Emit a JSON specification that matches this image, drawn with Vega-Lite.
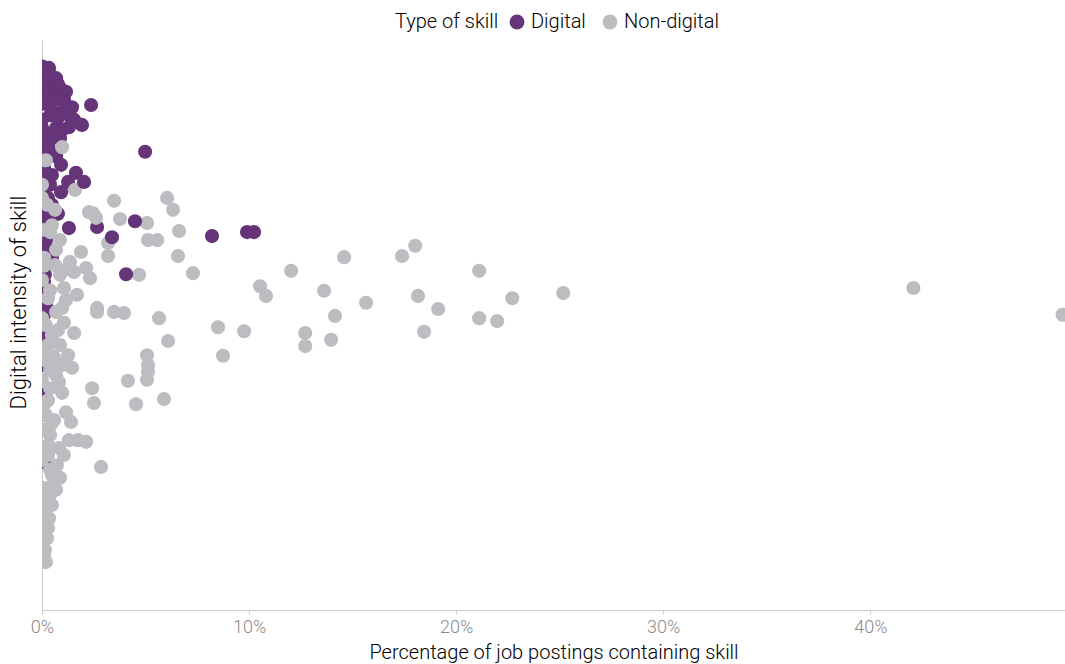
{
  "$schema": "https://vega.github.io/schema/vega-lite/v6.json",
  "width": 1023,
  "height": 570,
  "autosize": {"type": "none"},
  "padding": {"left": 42, "top": 40, "right": 0, "bottom": 54},
  "background": "white",
  "config": {
    "view": {"stroke": null},
    "font": "Roboto",
    "axis": {"grid": false}
  },
  "data": {
    "values": [
      {"skill":"Digital","share":0,"intensity":0.954},
      {"skill":"Digital","share":0.0034,"intensity":0.951},
      {"skill":"Digital","share":0.001,"intensity":0.94},
      {"skill":"Digital","share":0.0068,"intensity":0.933},
      {"skill":"Digital","share":0.0029,"intensity":0.926},
      {"skill":"Digital","share":0,"intensity":0.919},
      {"skill":"Digital","share":0.0048,"intensity":0.912},
      {"skill":"Digital","share":0.0087,"intensity":0.916},
      {"skill":"Digital","share":0.0116,"intensity":0.909},
      {"skill":"Digital","share":0.0019,"intensity":0.902},
      {"skill":"Digital","share":0.0063,"intensity":0.895},
      {"skill":"Digital","share":0,"intensity":0.888},
      {"skill":"Digital","share":0.0145,"intensity":0.882},
      {"skill":"Digital","share":0.0237,"intensity":0.886},
      {"skill":"Digital","share":0.0097,"intensity":0.874},
      {"skill":"Digital","share":0.0039,"intensity":0.868},
      {"skill":"Digital","share":0,"intensity":0.86},
      {"skill":"Digital","share":0.0193,"intensity":0.851},
      {"skill":"Digital","share":0.013,"intensity":0.847},
      {"skill":"Digital","share":0.0068,"intensity":0.846},
      {"skill":"Digital","share":0.0014,"intensity":0.835},
      {"skill":"Digital","share":0.0087,"intensity":0.828},
      {"skill":"Digital","share":0,"intensity":0.821},
      {"skill":"Digital","share":0.0039,"intensity":0.807},
      {"skill":"Digital","share":0.0498,"intensity":0.804},
      {"skill":"Digital","share":0.001,"intensity":0.775},
      {"skill":"Digital","share":0.0048,"intensity":0.763},
      {"skill":"Digital","share":0,"intensity":0.754},
      {"skill":"Digital","share":0.0029,"intensity":0.723},
      {"skill":"Digital","share":0,"intensity":0.698},
      {"skill":"Digital","share":0.0039,"intensity":0.684},
      {"skill":"Digital","share":0.0266,"intensity":0.672},
      {"skill":"Digital","share":0.001,"intensity":0.658},
      {"skill":"Digital","share":0.0024,"intensity":0.635},
      {"skill":"Digital","share":0,"intensity":0.614},
      {"skill":"Digital","share":0.0014,"intensity":0.588},
      {"skill":"Digital","share":0,"intensity":0.561},
      {"skill":"Digital","share":0.0019,"intensity":0.544},
      {"skill":"Digital","share":0.001,"intensity":0.518},
      {"skill":"Digital","share":0.0014,"intensity":0.482},
      {"skill":"Digital","share":0.001,"intensity":0.43},
      {"skill":"Digital","share":0.0005,"intensity":0.377},
      {"skill":"Digital","share":0.001,"intensity":0.26},
      {"skill":"Digital","share":0,"intensity":0.944},
      {"skill":"Digital","share":0.0039,"intensity":0.939},
      {"skill":"Digital","share":0.0077,"intensity":0.923},
      {"skill":"Digital","share":0.001,"intensity":0.909},
      {"skill":"Digital","share":0.0106,"intensity":0.895},
      {"skill":"Digital","share":0.0039,"intensity":0.884},
      {"skill":"Digital","share":0.0077,"intensity":0.863},
      {"skill":"Digital","share":0.0135,"intensity":0.867},
      {"skill":"Digital","share":0,"intensity":0.846},
      {"skill":"Digital","share":0.0039,"intensity":0.825},
      {"skill":"Digital","share":0.0097,"intensity":0.842},
      {"skill":"Digital","share":0.0155,"intensity":0.86},
      {"skill":"Digital","share":0.001,"intensity":0.811},
      {"skill":"Digital","share":0.0068,"intensity":0.796},
      {"skill":"Digital","share":0,"intensity":0.793},
      {"skill":"Digital","share":0.0039,"intensity":0.746},
      {"skill":"Digital","share":0.0126,"intensity":0.751},
      {"skill":"Digital","share":0.001,"intensity":0.737},
      {"skill":"Digital","share":0.0048,"intensity":0.711},
      {"skill":"Digital","share":0,"intensity":0.681},
      {"skill":"Digital","share":0.0077,"intensity":0.695},
      {"skill":"Digital","share":0.0019,"intensity":0.649},
      {"skill":"Digital","share":0,"intensity":0.596},
      {"skill":"Digital","share":0.0048,"intensity":0.618},
      {"skill":"Digital","share":0.001,"intensity":0.575},
      {"skill":"Digital","share":0.0019,"intensity":0.535},
      {"skill":"Digital","share":0,"intensity":0.5},
      {"skill":"Digital","share":0.001,"intensity":0.465},
      {"skill":"Non-digital","share":0.0097,"intensity":0.812},
      {"skill":"Non-digital","share":0.0019,"intensity":0.789},
      {"skill":"Non-digital","share":0.0159,"intensity":0.737},
      {"skill":"Non-digital","share":0.0024,"intensity":0.711},
      {"skill":"Non-digital","share":0.0227,"intensity":0.698},
      {"skill":"Non-digital","share":0.0261,"intensity":0.688},
      {"skill":"Non-digital","share":0.0246,"intensity":0.696},
      {"skill":"Non-digital","share":0.0377,"intensity":0.686},
      {"skill":"Non-digital","share":0.0507,"intensity":0.679},
      {"skill":"Non-digital","share":0.0348,"intensity":0.718},
      {"skill":"Non-digital","share":0.0604,"intensity":0.723},
      {"skill":"Non-digital","share":0.0633,"intensity":0.702},
      {"skill":"Non-digital","share":0.0662,"intensity":0.665},
      {"skill":"Non-digital","share":0.0319,"intensity":0.644},
      {"skill":"Non-digital","share":0.0319,"intensity":0.621},
      {"skill":"Non-digital","share":0.0512,"intensity":0.649},
      {"skill":"Non-digital","share":0.0556,"intensity":0.649},
      {"skill":"Non-digital","share":0.0657,"intensity":0.621},
      {"skill":"Non-digital","share":0.0232,"intensity":0.582},
      {"skill":"Non-digital","share":0.0469,"intensity":0.588},
      {"skill":"Non-digital","share":0.0729,"intensity":0.591},
      {"skill":"Non-digital","share":0.1203,"intensity":0.595},
      {"skill":"Non-digital","share":0.0188,"intensity":0.628},
      {"skill":"Non-digital","share":0.0213,"intensity":0.6},
      {"skill":"Non-digital","share":0.0155,"intensity":0.593},
      {"skill":"Non-digital","share":0.0087,"intensity":0.649},
      {"skill":"Non-digital","share":0.0048,"intensity":0.675},
      {"skill":"Non-digital","share":0.0063,"intensity":0.702},
      {"skill":"Non-digital","share":0,"intensity":0.667},
      {"skill":"Non-digital","share":0,"intensity":0.746},
      {"skill":"Non-digital","share":0.001,"intensity":0.618},
      {"skill":"Non-digital","share":0.0106,"intensity":0.565},
      {"skill":"Non-digital","share":0.0169,"intensity":0.553},
      {"skill":"Non-digital","share":0.0266,"intensity":0.53},
      {"skill":"Non-digital","share":0.0266,"intensity":0.523},
      {"skill":"Non-digital","share":0.0348,"intensity":0.523},
      {"skill":"Non-digital","share":0.0396,"intensity":0.521},
      {"skill":"Non-digital","share":0.0565,"intensity":0.512},
      {"skill":"Non-digital","share":0.085,"intensity":0.496},
      {"skill":"Non-digital","share":0.0976,"intensity":0.489},
      {"skill":"Non-digital","share":0.0609,"intensity":0.472},
      {"skill":"Non-digital","share":0.0097,"intensity":0.53},
      {"skill":"Non-digital","share":0.0106,"intensity":0.504},
      {"skill":"Non-digital","share":0.0155,"intensity":0.486},
      {"skill":"Non-digital","share":0.0058,"intensity":0.444},
      {"skill":"Non-digital","share":0.0082,"intensity":0.4},
      {"skill":"Non-digital","share":0.0242,"intensity":0.389},
      {"skill":"Non-digital","share":0.0251,"intensity":0.363},
      {"skill":"Non-digital","share":0.0097,"intensity":0.381},
      {"skill":"Non-digital","share":0.0116,"intensity":0.347},
      {"skill":"Non-digital","share":0.014,"intensity":0.33},
      {"skill":"Non-digital","share":0.0043,"intensity":0.325},
      {"skill":"Non-digital","share":0.013,"intensity":0.298},
      {"skill":"Non-digital","share":0.0213,"intensity":0.295},
      {"skill":"Non-digital","share":0.0082,"intensity":0.284},
      {"skill":"Non-digital","share":0.0072,"intensity":0.254},
      {"skill":"Non-digital","share":0.0285,"intensity":0.251},
      {"skill":"Non-digital","share":0.0058,"intensity":0.225},
      {"skill":"Non-digital","share":0.0048,"intensity":0.184},
      {"skill":"Non-digital","share":0.0034,"intensity":0.161},
      {"skill":"Non-digital","share":0.0024,"intensity":0.126},
      {"skill":"Non-digital","share":0.0019,"intensity":0.084},
      {"skill":"Non-digital","share":0.0014,"intensity":0.105},
      {"skill":"Non-digital","share":0.0029,"intensity":0.144},
      {"skill":"Non-digital","share":0.0039,"intensity":0.202},
      {"skill":"Non-digital","share":0.0048,"intensity":0.237},
      {"skill":"Non-digital","share":0.0029,"intensity":0.272},
      {"skill":"Non-digital","share":0.0039,"intensity":0.307},
      {"skill":"Non-digital","share":0.0019,"intensity":0.342},
      {"skill":"Non-digital","share":0.0029,"intensity":0.368},
      {"skill":"Non-digital","share":0.0039,"intensity":0.421},
      {"skill":"Non-digital","share":0.0029,"intensity":0.465},
      {"skill":"Non-digital","share":0.0019,"intensity":0.5},
      {"skill":"Non-digital","share":0.0039,"intensity":0.561},
      {"skill":"Non-digital","share":0,"intensity":0.579},
      {"skill":"Non-digital","share":0.0063,"intensity":0.605},
      {"skill":"Non-digital","share":0,"intensity":0.723},
      {"skill":"Non-digital","share":0.0039,"intensity":0.663},
      {"skill":"Non-digital","share":0.0068,"intensity":0.632},
      {"skill":"Non-digital","share":0.001,"intensity":0.604},
      {"skill":"Non-digital","share":0.0087,"intensity":0.588},
      {"skill":"Non-digital","share":0.0029,"intensity":0.547},
      {"skill":"Non-digital","share":0.0068,"intensity":0.523},
      {"skill":"Non-digital","share":0,"intensity":0.512},
      {"skill":"Non-digital","share":0.0048,"intensity":0.482},
      {"skill":"Non-digital","share":0.0087,"intensity":0.465},
      {"skill":"Non-digital","share":0,"intensity":0.453},
      {"skill":"Non-digital","share":0.0029,"intensity":0.435},
      {"skill":"Non-digital","share":0.0068,"intensity":0.412},
      {"skill":"Non-digital","share":0,"intensity":0.404},
      {"skill":"Non-digital","share":0.0039,"intensity":0.389},
      {"skill":"Non-digital","share":0.001,"intensity":0.36},
      {"skill":"Non-digital","share":0.0058,"intensity":0.333},
      {"skill":"Non-digital","share":0,"intensity":0.316},
      {"skill":"Non-digital","share":0.0029,"intensity":0.289},
      {"skill":"Non-digital","share":0,"intensity":0.263},
      {"skill":"Non-digital","share":0.0039,"intensity":0.246},
      {"skill":"Non-digital","share":0.001,"intensity":0.214},
      {"skill":"Non-digital","share":0.0019,"intensity":0.193},
      {"skill":"Non-digital","share":0,"intensity":0.172},
      {"skill":"Non-digital","share":0.0014,"intensity":0.149},
      {"skill":"Non-digital","share":0,"intensity":0.114},
      {"skill":"Non-digital","share":0.001,"intensity":0.095},
      {"skill":"Non-digital","share":0.0106,"intensity":0.596},
      {"skill":"Non-digital","share":0.0135,"intensity":0.611},
      {"skill":"Non-digital","share":0.0116,"intensity":0.544},
      {"skill":"Non-digital","share":0.0077,"intensity":0.491},
      {"skill":"Non-digital","share":0.0126,"intensity":0.447},
      {"skill":"Non-digital","share":0.0145,"intensity":0.425},
      {"skill":"Non-digital","share":0.0097,"intensity":0.43},
      {"skill":"Non-digital","share":0.0174,"intensity":0.298},
      {"skill":"Non-digital","share":0.0106,"intensity":0.272},
      {"skill":"Non-digital","share":0.0087,"intensity":0.232},
      {"skill":"Non-digital","share":0.0068,"intensity":0.211},
      {"skill":"Non-digital","share":0.0507,"intensity":0.447},
      {"skill":"Non-digital","share":0.0512,"intensity":0.43},
      {"skill":"Non-digital","share":0.0512,"intensity":0.418},
      {"skill":"Non-digital","share":0.0507,"intensity":0.404},
      {"skill":"Non-digital","share":0.0874,"intensity":0.446},
      {"skill":"Non-digital","share":0.0415,"intensity":0.402},
      {"skill":"Non-digital","share":0.0454,"intensity":0.361},
      {"skill":"Non-digital","share":0.0589,"intensity":0.37},
      {"skill":"Non-digital","share":0.1053,"intensity":0.568},
      {"skill":"Non-digital","share":0.1082,"intensity":0.551},
      {"skill":"Non-digital","share":0.1271,"intensity":0.486},
      {"skill":"Non-digital","share":0.1271,"intensity":0.463},
      {"skill":"Non-digital","share":0.1396,"intensity":0.474},
      {"skill":"Non-digital","share":0.1362,"intensity":0.56},
      {"skill":"Non-digital","share":0.1415,"intensity":0.516},
      {"skill":"Non-digital","share":0.1459,"intensity":0.619},
      {"skill":"Non-digital","share":0.1565,"intensity":0.539},
      {"skill":"Non-digital","share":0.1739,"intensity":0.621},
      {"skill":"Non-digital","share":0.1802,"intensity":0.639},
      {"skill":"Non-digital","share":0.1816,"intensity":0.551},
      {"skill":"Non-digital","share":0.1845,"intensity":0.488},
      {"skill":"Non-digital","share":0.1913,"intensity":0.528},
      {"skill":"Non-digital","share":0.2111,"intensity":0.595},
      {"skill":"Non-digital","share":0.2111,"intensity":0.512},
      {"skill":"Non-digital","share":0.2198,"intensity":0.507},
      {"skill":"Non-digital","share":0.2271,"intensity":0.547},
      {"skill":"Non-digital","share":0.2517,"intensity":0.556},
      {"skill":"Non-digital","share":0.4208,"intensity":0.565},
      {"skill":"Non-digital","share":0.4928,"intensity":0.518},
      {"skill":"Digital","share":0.0092,"intensity":0.781},
      {"skill":"Digital","share":0.0164,"intensity":0.767},
      {"skill":"Digital","share":0.0203,"intensity":0.751},
      {"skill":"Digital","share":0.0092,"intensity":0.733},
      {"skill":"Digital","share":0.013,"intensity":0.67},
      {"skill":"Digital","share":0.0338,"intensity":0.654},
      {"skill":"Digital","share":0.0449,"intensity":0.682},
      {"skill":"Digital","share":0.0821,"intensity":0.656},
      {"skill":"Digital","share":0.099,"intensity":0.663},
      {"skill":"Digital","share":0.1024,"intensity":0.663},
      {"skill":"Digital","share":0.0406,"intensity":0.589}
    ]
  },
  "mark": {"type": "circle", "size": 200, "opacity": 1, "clip": true},
  "encoding": {
    "x": {
      "field": "share",
      "type": "quantitative",
      "scale": {"domain": [0, 0.494], "nice": false, "zero": true},
      "axis": {
        "title": "Percentage of job postings containing skill",
        "format": ".0%",
        "values": [0, 0.1, 0.2, 0.3, 0.4],
        "labelFlush": false,
        "domainColor": "#cccccc",
        "tickColor": "#cccccc",
        "tickSize": 4,
        "labelColor": "#8a8a8a",
        "labelFontSize": 18,
        "labelFontWeight": 300,
        "labelPadding": 4,
        "titleFontSize": 20,
        "titleFontWeight": 300,
        "titleColor": "#000000",
        "titlePadding": 6
      }
    },
    "y": {
      "field": "intensity",
      "type": "quantitative",
      "scale": {"domain": [0, 1], "nice": false},
      "axis": {
        "title": "Digital intensity of skill",
        "labels": false,
        "ticks": false,
        "domainColor": "#cccccc",
        "titleFontSize": 22,
        "titleFontWeight": 300,
        "titleColor": "#000000",
        "titlePadding": 12,
        "titleY": 262
      }
    },
    "color": {
      "field": "skill",
      "type": "nominal",
      "scale": {"domain": ["Digital", "Non-digital"], "range": ["#653479", "#bdbcc1"]},
      "legend": {
        "title": "Type of skill",
        "orient": "none",
        "legendX": 353,
        "legendY": -28,
        "direction": "horizontal",
        "titleOrient": "left",
        "titleFontSize": 20,
        "titleFontWeight": 300,
        "titleColor": "#000000",
        "labelFontSize": 20,
        "labelFontWeight": 300,
        "labelColor": "#000000",
        "symbolType": "circle",
        "symbolSize": 220,
        "symbolOpacity": 1,
        "columnPadding": 14,
        "titlePadding": 8
      }
    }
  }
}
